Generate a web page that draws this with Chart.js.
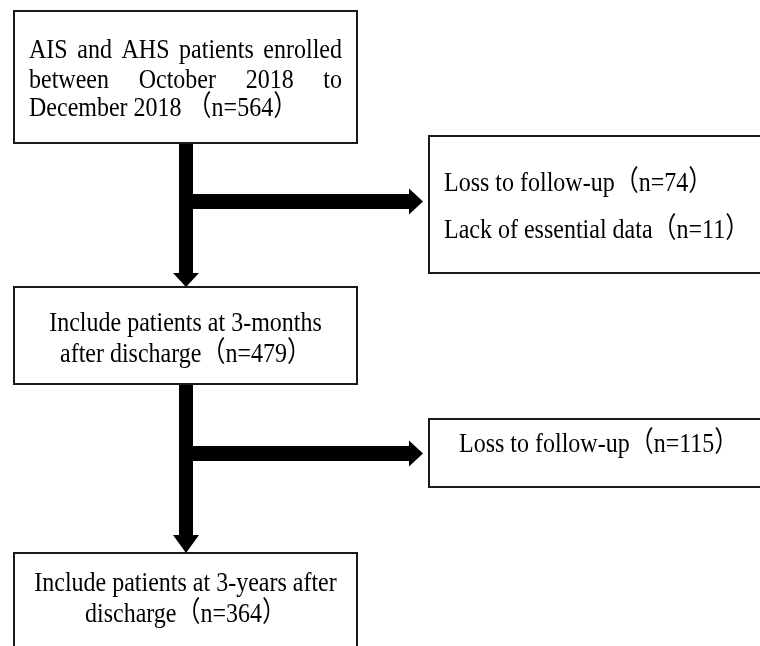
<!DOCTYPE html>
<html>
<head>
<meta charset="utf-8">
<script src="https://cdn.jsdelivr.net/npm/chart.js@4.4.1/dist/chart.umd.min.js"></script>
<style>
  html, body { margin: 0; padding: 0; background: #fff; }
  #flow { display: block; }
</style>
</head>
<body>
<canvas id="flow" width="760" height="646"></canvas>
<script>
// flow stages (main column) and their counts
const stageLines = [
    ['AIS and AHS patients enrolled', 'between October 2018 to', 'December 2018 '],
    ['Include patients at 3-months', 'after discharge'],
    ['Include patients at 3-years after', 'discharge']
];
const stageCounts = [564, 479, 364];

// excluded patients (side boxes)
const exclusionLabels = [
    ['Loss to follow-up', 'Lack of essential data'],
    ['Loss to follow-up']
];
const exclusionCounts = [
    [74, 11],
    [115]
];

// layout, in canvas units (x: 0-760, y: 0-646 top-down)
const stageBoxes = [
    { x0: 14, y0: 11, x1: 357, y1: 143, baselines: [58, 88, 116], justify: true, textX: 29 },
    { x0: 14, y0: 287, x1: 357, y1: 384, baselines: [331, 362] },
    { x0: 14, y0: 553, x1: 357, y1: 680, baselines: [591, 622] }
];
const sideBoxes = [
    { x0: 429, y0: 136, x1: 780, y1: 273, textX: 444, baselines: [191, 238] },
    { x0: 429, y0: 419, x1: 780, y1: 487, textX: 459, baselines: [452] }
];
const shaftX = 186;
const shaftW = 14;
const headLens = [14, 18];
const branchY = [201.5, 453.5];
const branchW = 15;
const branchTipX = 423;
const branchHead = 14;
const headHalf = 13;

const FONT = "24px 'Liberation Serif', 'Times New Roman', 'Noto Sans CJK SC', serif";
const STRETCH_Y = 1.18; // the source figure's text is drawn a bit taller than normal

const countText = n => '（n=' + n + '）';

function tallText(ctx, text, x, y) {
    ctx.save();
    ctx.translate(x, y);
    ctx.scale(1, STRETCH_Y);
    ctx.fillText(text, 0, 0);
    ctx.restore();
}

const flowPlugin = {
    id: 'flow',
    beforeDraw(chart) {
        const ctx = chart.ctx;
        ctx.save();
        ctx.fillStyle = '#fff';
        ctx.fillRect(0, 0, chart.width, chart.height);
        ctx.restore();
    },
    afterDraw(chart) {
        const ctx = chart.ctx;
        const sx = chart.scales.x;
        const sy = chart.scales.y;
        const px = v => sx.getPixelForValue(v);
        const py = v => sy.getPixelForValue(v);

        ctx.save();

        // boxes
        ctx.strokeStyle = '#1a1a1a';
        ctx.lineWidth = 2;
        stageBoxes.concat(sideBoxes).forEach(b => {
            ctx.strokeRect(px(b.x0), py(b.y0), px(b.x1) - px(b.x0), py(b.y1) - py(b.y0));
        });

        ctx.fillStyle = '#000';

        // vertical arrows between stages
        for (let i = 0; i < stageBoxes.length - 1; i++) {
            const top = stageBoxes[i].y1 + 1;
            const tip = stageBoxes[i + 1].y0;
            const base = tip - headLens[i];
            ctx.fillRect(px(shaftX - shaftW / 2), py(top), px(shaftX + shaftW / 2) - px(shaftX - shaftW / 2), py(base) - py(top));
            ctx.beginPath();
            ctx.moveTo(px(shaftX - headHalf), py(base));
            ctx.lineTo(px(shaftX + headHalf), py(base));
            ctx.lineTo(px(shaftX), py(tip));
            ctx.closePath();
            ctx.fill();

            // horizontal branch to the exclusion box
            const by = branchY[i];
            const hb = branchTipX - branchHead;
            ctx.fillRect(px(shaftX + shaftW / 2), py(by - branchW / 2), px(hb) - px(shaftX + shaftW / 2), py(by + branchW / 2) - py(by - branchW / 2));
            ctx.beginPath();
            ctx.moveTo(px(hb), py(by - headHalf));
            ctx.lineTo(px(hb), py(by + headHalf));
            ctx.lineTo(px(branchTipX), py(by));
            ctx.closePath();
            ctx.fill();
        }

        // stage texts
        ctx.font = FONT;
        ctx.textBaseline = 'alphabetic';
        stageBoxes.forEach((b, i) => {
            const lines = stageLines[i].slice();
            lines[lines.length - 1] += countText(stageCounts[i]);
            lines.forEach((line, j) => {
                const yb = py(b.baselines[j]);
                if (b.justify && j < lines.length - 1) {
                    // justified line: spread words across the box
                    const words = line.split(' ');
                    const right = b.x1 - (b.textX - b.x0);
                    const wsum = words.reduce((s, w) => s + ctx.measureText(w).width, 0);
                    const gap = (px(right) - px(b.textX) - wsum) / (words.length - 1);
                    let cx = px(b.textX);
                    ctx.textAlign = 'left';
                    words.forEach(w => {
                        tallText(ctx, w, cx, yb);
                        cx += ctx.measureText(w).width + gap;
                    });
                } else if (b.justify) {
                    ctx.textAlign = 'left';
                    tallText(ctx, line, px(b.textX), yb);
                } else {
                    ctx.textAlign = 'center';
                    tallText(ctx, line, px((b.x0 + b.x1) / 2), yb);
                }
            });
        });

        // exclusion texts
        ctx.textAlign = 'left';
        sideBoxes.forEach((b, i) => {
            exclusionLabels[i].forEach((label, j) => {
                tallText(ctx, label + countText(exclusionCounts[i][j]), px(b.textX), py(b.baselines[j]));
            });
        });

        ctx.restore();
    }
};

new Chart(document.getElementById('flow'), {
    type: 'scatter',
    data: {
        datasets: [{
            data: stageCounts.map((n, i) => ({ x: shaftX, y: (stageBoxes[i].y0 + stageBoxes[i].y1) / 2 })),
            pointRadius: 0,
            showLine: false
        }]
    },
    options: {
        responsive: false,
        animation: false,
        events: [],
        layout: { padding: 0 },
        plugins: {
            legend: { display: false },
            tooltip: { enabled: false }
        },
        scales: {
            x: { type: 'linear', min: 0, max: 760, display: false },
            y: { type: 'linear', min: 0, max: 646, reverse: true, display: false }
        }
    },
    plugins: [flowPlugin]
});
</script>
</body>
</html>
